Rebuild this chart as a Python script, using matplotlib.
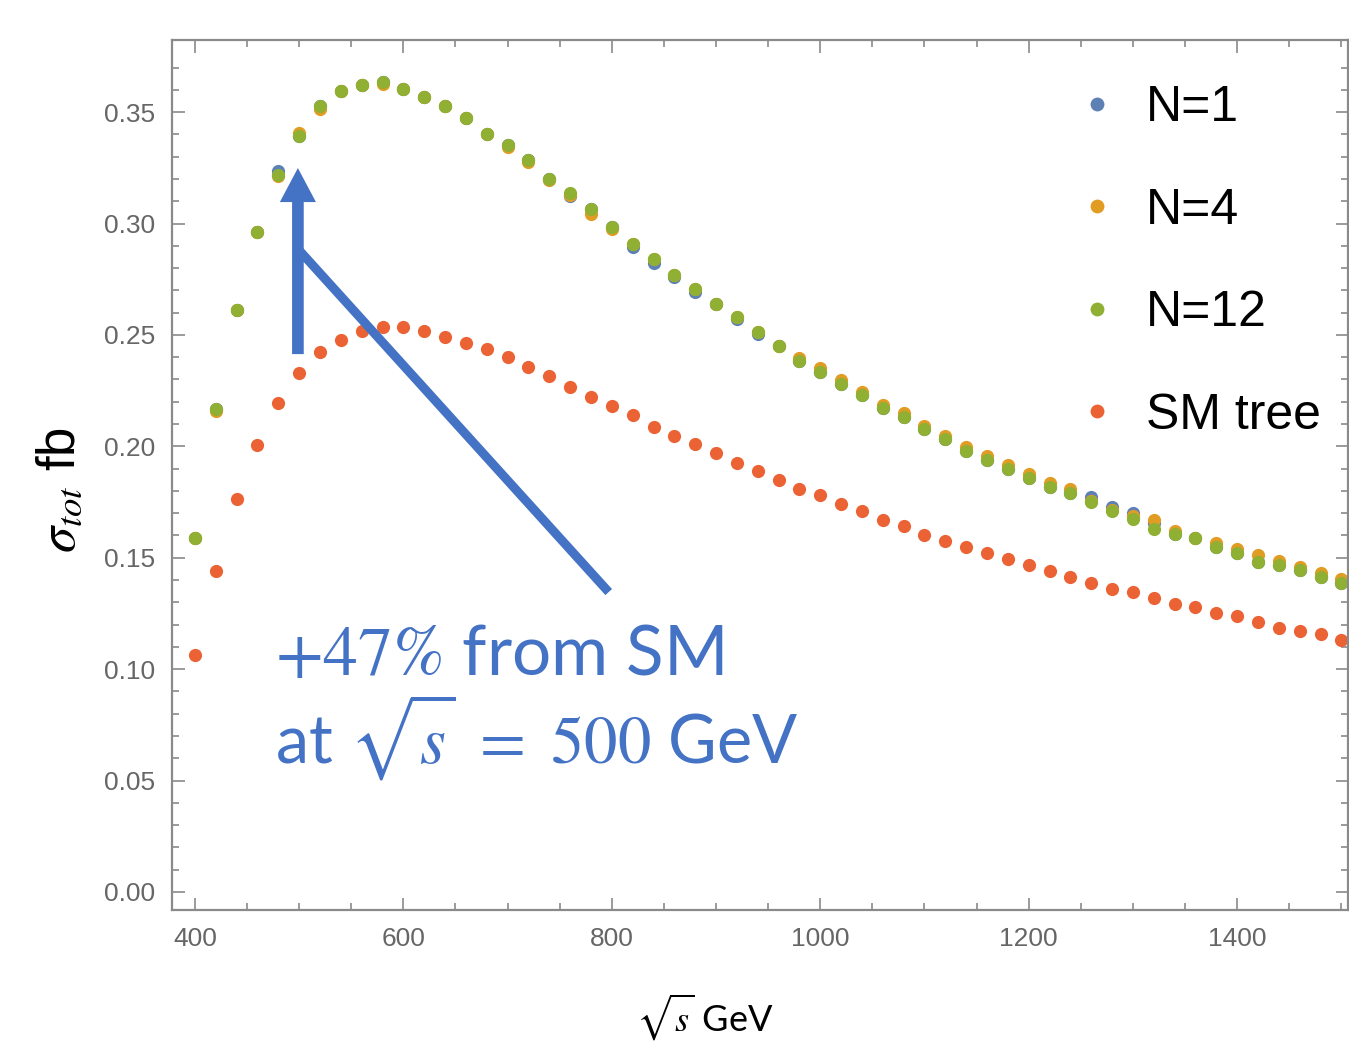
import matplotlib
matplotlib.use('Agg')
import matplotlib.pyplot as plt
from matplotlib.patches import FancyArrowPatch
import numpy as np

plt.rcParams['mathtext.fontset'] = 'stix'

NARROW = ['Liberation Sans Narrow', 'Liberation Sans', 'DejaVu Sans']
CALIBRI = ['Lato', 'DejaVu Sans']

# sqrt(s) in GeV, 400..1500 step 20
sqrt_s = list(range(400, 1501, 20))

n1 = [0.1587, 0.2166, 0.2612, 0.2960, 0.3235, 0.3392, 0.3526, 0.3594, 0.3621, 0.3633,
      0.3606, 0.3566, 0.3526, 0.3473, 0.3404, 0.3352, 0.3285, 0.3202, 0.3124, 0.3065,
      0.2985, 0.2895, 0.2825, 0.2760, 0.2692, 0.2638, 0.2570, 0.2502, 0.2450, 0.2384,
      0.2332, 0.2280, 0.2230, 0.2172, 0.2130, 0.2076, 0.2033, 0.1980, 0.1938, 0.1900,
      0.1859, 0.1819, 0.1792, 0.1771, 0.1729, 0.1702, 0.1655, 0.1605, 0.1587, 0.1550,
      0.1523, 0.1482, 0.1467, 0.1445, 0.1415, 0.1385]

n4 = [0.1587, 0.2158, 0.2612, 0.2960, 0.3215, 0.3405, 0.3515, 0.3594, 0.3621, 0.3625,
      0.3606, 0.3566, 0.3526, 0.3473, 0.3404, 0.3345, 0.3278, 0.3195, 0.3130, 0.3042,
      0.2975, 0.2909, 0.2839, 0.2771, 0.2704, 0.2638, 0.2582, 0.2514, 0.2450, 0.2395,
      0.2350, 0.2297, 0.2243, 0.2185, 0.2148, 0.2092, 0.2047, 0.1998, 0.1956, 0.1916,
      0.1876, 0.1835, 0.1810, 0.1755, 0.1715, 0.1687, 0.1669, 0.1621, 0.1587, 0.1567,
      0.1539, 0.1512, 0.1487, 0.1460, 0.1433, 0.1403]

n12 = [0.1587, 0.2166, 0.2612, 0.2960, 0.3217, 0.3392, 0.3526, 0.3594, 0.3621, 0.3633,
       0.3606, 0.3566, 0.3526, 0.3473, 0.3404, 0.3352, 0.3285, 0.3202, 0.3135, 0.3065,
       0.2985, 0.2909, 0.2839, 0.2771, 0.2704, 0.2638, 0.2582, 0.2514, 0.2450, 0.2384,
       0.2332, 0.2280, 0.2230, 0.2172, 0.2130, 0.2076, 0.2033, 0.1980, 0.1938, 0.1900,
       0.1859, 0.1819, 0.1792, 0.1750, 0.1710, 0.1672, 0.1629, 0.1605, 0.1587, 0.1550,
       0.1523, 0.1482, 0.1467, 0.1445, 0.1415, 0.1385]

sm_tree = [0.1063, 0.1440, 0.1763, 0.2006, 0.2194, 0.2329, 0.2423, 0.2477, 0.2517, 0.2535,
           0.2535, 0.2517, 0.2490, 0.2463, 0.2437, 0.2401, 0.2356, 0.2315, 0.2266, 0.2221,
           0.2181, 0.2140, 0.2087, 0.2046, 0.2010, 0.1970, 0.1925, 0.1889, 0.1849, 0.1808,
           0.1781, 0.1741, 0.1710, 0.1669, 0.1642, 0.1602, 0.1575, 0.1547, 0.1520, 0.1494,
           0.1467, 0.1440, 0.1413, 0.1387, 0.1360, 0.1346, 0.1320, 0.1292, 0.1279, 0.1252,
           0.1238, 0.1211, 0.1185, 0.1171, 0.1158, 0.1131]

series = [('N=1', n1, '#5E81B5'),
          ('N=4', n4, '#E19C24'),
          ('N=12', n12, '#8FB032'),
          ('SM tree', sm_tree, '#EB6235')]

fig = plt.figure(figsize=(13.49, 10.43), dpi=100)
ax = fig.add_axes([0.1275, 0.1275, 0.8715, 0.834])

for label, vals, col in series:
    ax.plot(sqrt_s, vals, 'o', color=col, ms=9.5, mec='none', label=label)

ax.set_xlim(378, 1506)
ax.set_ylim(-0.0081, 0.3823)

ax.set_xticks(np.arange(400, 1501, 200))
ax.set_xticks(np.arange(400, 1501, 50), minor=True)
ax.set_yticks(np.arange(0, 0.351, 0.05))
ax.set_yticks(np.arange(0, 0.38, 0.01), minor=True)
ax.set_yticklabels(['%.2f' % v for v in np.arange(0, 0.351, 0.05)])

gray = '#8a8a8a'
for sp in ax.spines.values():
    sp.set_color(gray)
    sp.set_linewidth(1.6)
ax.tick_params(which='both', direction='in', top=True, right=True, color=gray, width=1.2)
ax.tick_params(which='major', length=9, pad=12)
ax.tick_params(which='minor', length=5)
for t in ax.get_xticklabels() + ax.get_yticklabels():
    t.set_family(NARROW)
    t.set_fontsize(19)
    t.set_color('#666666')

ax.set_xlabel(r'$\sqrt{s}$ GeV', family=CALIBRI, fontsize=26, va='center')
ax.xaxis.set_label_coords(0.453, -0.123)
ax.set_ylabel(r'$\sigma_{tot}$ fb', family=NARROW, fontsize=38, va='center')
ax.yaxis.set_label_coords(-0.095, 0.483)

leg = ax.legend(loc='upper left', bbox_to_anchor=(0.7738, 0.948), frameon=False,
                prop={'family': NARROW, 'size': 36}, markerscale=1.05,
                handlelength=0.6, handletextpad=0.68, labelspacing=1.13,
                borderaxespad=0, borderpad=0)

# annotation arrow and line
blue = '#4472C4'
arr = FancyArrowPatch((498.8, 0.2414), (498.8, 0.3249),
                      arrowstyle='simple,head_length=2.45,head_width=2.6,tail_width=0.84',
                      mutation_scale=10, color=blue, lw=0, shrinkA=0, shrinkB=0)
ax.add_patch(arr)
ax.plot([500, 797], [0.288, 0.1346], color=blue, lw=6.5, solid_capstyle='butt')

ax.text(477, 0.0974, r'$+47\%$ from SM', color=blue, family=CALIBRI, fontsize=50)
ax.text(477, 0.0579, r'at $\sqrt{s}\ =\ 500$ GeV', color=blue, family=CALIBRI, fontsize=48)

fig.savefig('out.png', dpi=100)
